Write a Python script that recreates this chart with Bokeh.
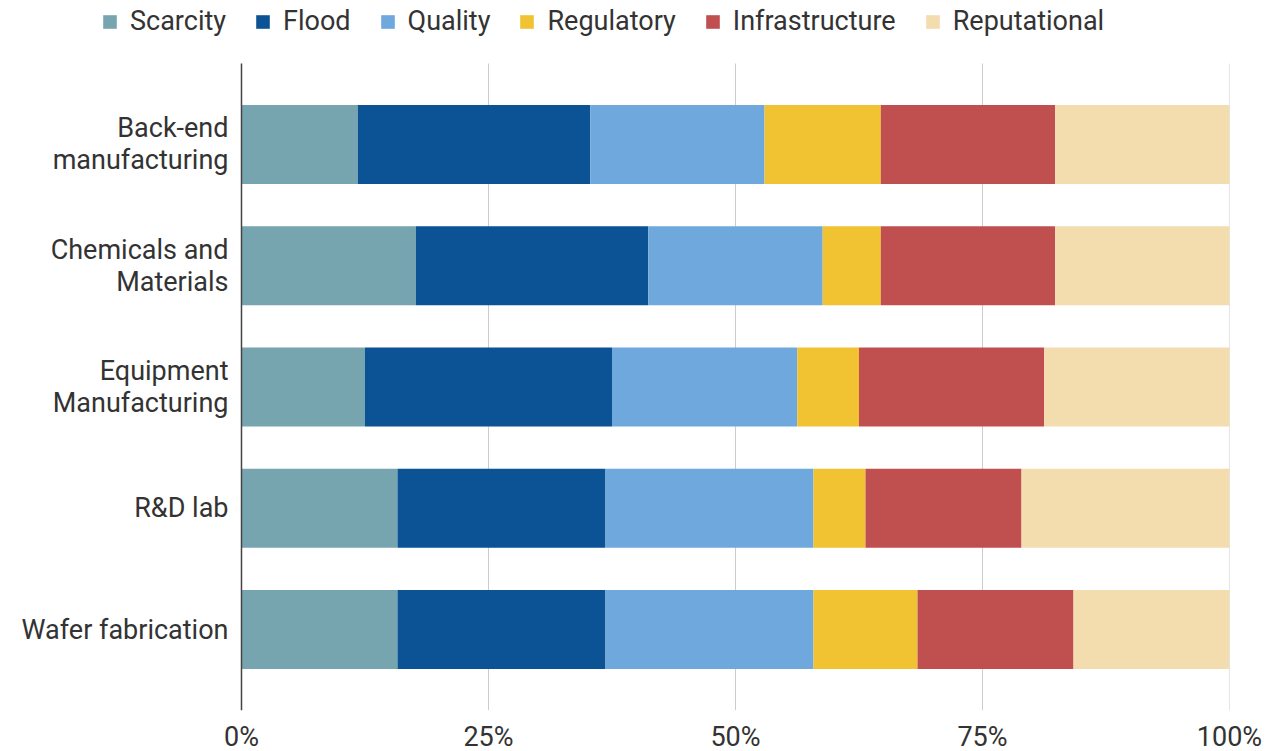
from bokeh.plotting import figure
from bokeh.models import ColumnDataSource, FixedTicker, Legend, LegendItem, Range1d, PrintfTickFormatter
from bokeh.core.properties import value
from bokeh.embed import file_html
from bokeh.resources import INLINE

# Number of sites per risk type in each facility category
categories = ["Back-end\nmanufacturing", "Chemicals and\nMaterials", "Equipment\nManufacturing", "R&D lab", "Wafer fabrication"]
risks = ["Scarcity", "Flood", "Quality", "Regulatory", "Infrastructure", "Reputational"]
scarcity = [2, 3, 2, 3, 3]
flood = [4, 4, 4, 4, 4]
quality = [3, 3, 3, 4, 4]
regulatory = [2, 1, 1, 1, 2]
infrastructure = [3, 3, 3, 3, 3]
reputational = [3, 3, 3, 4, 3]
colors = ["#76A5AF", "#0B5394", "#6FA8DC", "#F1C232", "#C0504F", "#F3DCAE"]
tick_values = [0, 25, 50, 75, 100]

series = [scarcity, flood, quality, regulatory, infrastructure, reputational]
totals = [sum(col) for col in zip(*series)]
shares = {name: [100.0 * v / t for v, t in zip(vals, totals)] for name, vals in zip(risks, series)}

ypos = list(range(len(categories)))
src = ColumnDataSource(dict(y=ypos, label=categories, **shares))

FONT = "Roboto"
TXT = "#333333"
FS = "27px"

# The frame spans the whole canvas so the legend strip and the category
# labels live inside it; the bar area runs from 0 to 100 on x and
# from -0.668 to 4.668 on y.
Y_TOP, Y_BOTTOM = -0.668, len(categories) - 1 + 0.668
p = figure(frame_width=1229, frame_height=710, output_backend="svg", toolbar_location=None,
           x_range=Range1d(-24.392, 100), y_range=Range1d(Y_BOTTOM, Y_TOP - 0.5196),
           min_border_left=0, min_border_right=37, min_border_top=0, min_border_bottom=40,
           outline_line_color=None)
p.xgrid.visible = False
p.ygrid.visible = False
p.yaxis.visible = False

# vertical guide lines at the percentage ticks
grid_src = ColumnDataSource(dict(x=tick_values[1:]))
p.segment(x0="x", x1="x", y0=Y_TOP, y1=Y_BOTTOM, line_color="#CCCCCC", line_width=1, source=grid_src)

renderers = p.hbar_stack(risks, y="y", height=0.65, color=colors, line_color=None, source=src)

# category axis line at 0%
p.segment(x0=tick_values[0], x1=tick_values[0], y0=Y_TOP, y1=Y_BOTTOM, line_color="#444444", line_width=1.5)

# category labels to the left of the bars
p.text(x=0, y="y", text="label", source=src, x_offset=-13,
       text_align="right", text_baseline="middle", text_line_height=1.0,
       text_font=value(FONT), text_font_size=FS, text_color=TXT)

legend = Legend(items=[LegendItem(label=r, renderers=[g]) for r, g in zip(risks, renderers)],
                orientation="horizontal", location=(101, 673),
                label_text_font=FONT, label_text_font_size=FS, label_text_color=TXT,
                glyph_width=17, glyph_height=17, spacing=28, label_standoff=12,
                padding=0, margin=0, border_line_color=None, background_fill_alpha=0)
p.add_layout(legend, "center")

p.xaxis.ticker = FixedTicker(ticks=tick_values)
p.xaxis.formatter = PrintfTickFormatter(format="%d%%")
p.xaxis.axis_line_color = None
p.xaxis.major_tick_line_color = None
p.xaxis.minor_tick_line_color = None
p.xaxis.major_label_text_font = FONT
p.xaxis.major_label_text_font_size = FS
p.xaxis.major_label_text_color = TXT
p.xaxis.major_label_standoff = 4

open("out.html", "w").write(file_html(p, INLINE))
